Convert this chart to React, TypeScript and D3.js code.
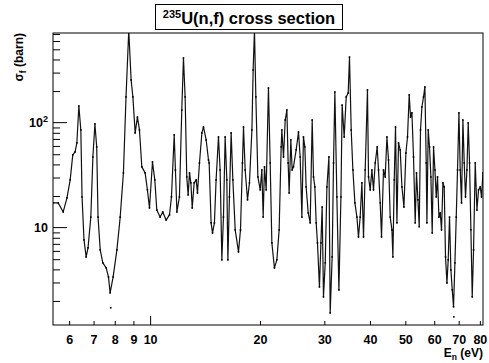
import React, { useEffect, useRef } from 'react';
import * as d3 from 'd3';

// neutron energy (eV) and fission cross section (barn)
const energy = [
  5.42, 5.60, 5.78, 5.92, 6.04, 6.14, 6.23, 6.30, 6.38, 6.46, 6.51, 6.59, 6.68, 6.76, 6.88,
  6.97, 7.06, 7.14, 7.20, 7.30, 7.42, 7.58, 7.69, 7.77, 7.92, 8.11, 8.28, 8.45, 8.59, 8.74,
  8.87, 8.97, 9.10, 9.23, 9.35, 9.49, 9.69, 9.83, 9.96, 10.15, 10.30, 10.43, 10.65, 10.83, 11.06,
  11.30, 11.44, 11.64, 11.73, 11.84, 12.03, 12.21, 12.34, 12.47, 12.60, 12.71, 12.82, 12.93, 13.04, 13.20,
  13.37, 13.48, 13.65, 13.86, 14.00, 14.24, 14.45, 14.51, 14.69, 14.82, 15.00, 15.16, 15.39, 15.55, 15.72,
  15.88, 16.05, 16.22, 16.33, 16.49, 16.67, 16.85, 17.10, 17.46, 17.68, 17.90, 18.02, 18.21, 18.48, 18.71,
  19.00, 19.15, 19.31, 19.48, 19.73, 20.02, 20.23, 20.40, 20.57, 20.79, 21.09, 21.32, 21.55, 21.90, 22.24,
  22.56, 22.85, 22.95, 23.19, 23.44, 23.69, 23.88, 24.03, 24.29, 24.49, 24.69, 25.12, 25.49, 25.76, 26.04,
  26.30, 26.53, 26.75, 27.10, 27.44, 27.79, 28.02, 28.26, 28.50, 28.73, 29.09, 29.36, 29.59, 29.84, 30.17,
  30.49, 30.88, 31.13, 31.52, 31.79, 32.06, 32.47, 32.89, 33.31, 33.57, 34.00, 34.44, 34.87, 35.16, 35.54,
  35.92, 36.38, 36.84, 37.21, 37.61, 38.02, 38.41, 38.82, 39.38, 39.64, 40.06, 40.50, 40.91, 41.35, 41.87,
  42.22, 42.67, 43.03, 43.57, 44.04, 44.52, 44.97, 45.45, 45.95, 46.23, 46.62, 47.00, 47.42, 47.90, 48.41,
  48.94, 49.56, 50.18, 50.69, 51.24, 51.67, 52.12, 52.65, 53.21, 53.65, 54.13, 54.58, 55.02, 55.51, 56.08,
  56.57, 57.04, 57.29, 57.76, 58.24, 58.75, 59.24, 59.74, 60.26, 60.76, 61.25, 61.80, 62.31, 62.82, 63.38,
  63.90, 64.42, 65.00, 65.53, 66.07, 66.65, 67.21, 67.76, 68.36, 68.93, 69.49, 70.11, 70.68, 71.27, 71.89,
  72.49, 73.08, 73.74, 74.34, 74.96, 75.61, 76.24, 76.88, 77.70, 78.54, 79.34, 80.19, 80.85, 81.56,
];
const sigma = [
  17.2, 17.2, 14.1, 19.2, 28.5, 49.3, 52.6, 64.1, 144, 85.2, 19.6, 7.64, 5.26, 6.41, 12.6,
  47.1, 97.2, 58.7, 12.6, 6.13, 4.61, 4.13, 3.39, 2.39, 3.39, 6.13, 12.6, 33.2, 176, 760,
  255, 176, 79.8, 113, 85.2, 37.9, 33.2, 22.9, 15.4, 42.2, 28.5, 14.7, 12.6, 14.1, 11.8,
  13.2, 19.6, 76.4, 35.4, 14.1, 19.6, 132, 413, 176, 30.4, 20.5, 33.2, 26.7, 15.4, 26.7,
  28.5, 21.4, 41.3, 79.8, 91.0, 68.4, 44.1, 41.3, 11.1, 8.90, 11.1, 28.5, 73.1, 35.4, 4.93,
  12.6, 73.1, 28.5, 4.93, 19.6, 79.8, 28.5, 9.51, 5.87, 9.51, 41.3, 91.0, 35.4, 18.4, 26.7,
  85.2, 318, 760, 176, 30.4, 22.9, 35.4, 12.6, 37.9, 22.9, 214, 41.3, 7.15, 4.13, 4.93,
  9.51, 58.7, 85.2, 47.1, 106, 132, 41.3, 21.4, 68.4, 35.4, 37.9, 55.0, 81.5, 47.1, 12.6,
  73.1, 58.7, 24.4, 13.8, 11.1, 106, 30.4, 24.4, 11.1, 7.15, 2.72, 7.15, 15.7, 2.19, 4.61,
  24.4, 47.1, 1.54, 5.26, 41.3, 196, 19.6, 2.55, 19.6, 147, 73.1, 176, 192, 422, 85.2,
  35.4, 17.2, 12.6, 8.15, 12.6, 26.7, 8.15, 35.4, 205, 30.4, 22.9, 35.4, 22.9, 41.3, 58.7,
  35.4, 17.2, 8.15, 35.4, 30.4, 73.1, 44.1, 12.6, 9.51, 5.26, 28.5, 91.0, 11.1, 64.1, 55.0,
  24.4, 15.7, 51.4, 73.1, 184, 113, 124, 47.1, 11.1, 33.2, 18.4, 10.2, 85.2, 141, 176,
  219, 41.3, 11.1, 85.2, 58.7, 30.4, 8.90, 58.7, 35.4, 19.6, 30.4, 12.6, 13.8, 9.51, 26.7,
  24.4, 5.26, 2.97, 4.93, 12.6, 3.95, 2.55, 1.76, 4.61, 12.6, 35.4, 124, 35.4, 17.2, 106,
  41.3, 19.6, 35.4, 99.3, 41.3, 9.51, 2.19, 6.13, 41.3, 14.7, 22.9, 24.4, 19.6, 33.2,
];
// stray measured points below the curve
const strayE = [7.80, 67.9];
const strayS = [1.72, 1.41];

const xTicks = [6, 7, 8, 9, 10, 20, 30, 40, 50, 60, 70, 80];
const yMinor = [2, 3, 4, 5, 6, 7, 8, 9, 20, 30, 40, 50, 60, 70, 80, 90, 200, 300, 400, 500, 600, 700];
const yMajor = [10, 100];
const yLabels = [{ base: '10', sup: '' }, { base: '10', sup: '2' }];

const FONT = '"Liberation Sans", Arial, Helvetica, sans-serif';

export default function App() {
  const svgRef = useRef<SVGSVGElement>(null);

  useEffect(() => {
    if (!svgRef.current) return;
    const svg = d3.select(svgRef.current);
    svg.selectAll('*').remove();

    const width = 489, height = 363;
    const margin = { top: 33, right: 6, bottom: 38, left: 53 };
    const x0 = margin.left, x1 = width - margin.right;
    const y0 = height - margin.bottom, y1 = margin.top;

    const x = d3.scaleLog().domain([5.42, 81.6]).range([x0, x1]);
    const y = d3.scaleLog().domain([1.18, 715]).range([y0, y1]);

    svg.append('rect').attr('width', width).attr('height', height).attr('fill', 'white');

    svg.append('defs').append('clipPath').attr('id', 'plotclip')
      .append('rect').attr('x', x0).attr('y', y1).attr('width', x1 - x0).attr('height', y0 - y1);

    const pts = energy.map((e, i) => [e, sigma[i]] as [number, number]);

    const line = d3.line<[number, number]>()
      .x(d => x(d[0]))
      .y(d => y(d[1]));

    const plot = svg.append('g').attr('clip-path', 'url(#plotclip)');
    plot.append('path')
      .datum(pts)
      .attr('fill', 'none')
      .attr('stroke', '#111')
      .attr('stroke-width', 1.2)
      .attr('stroke-linejoin', 'round')
      .attr('d', line);

    plot.selectAll('.dot')
      .data(pts.concat(strayE.map((e, i) => [e, strayS[i]] as [number, number])))
      .join('rect')
      .attr('class', 'dot')
      .attr('x', d => x(d[0]) - 0.8)
      .attr('y', d => y(d[1]) - 0.8)
      .attr('width', 1.6)
      .attr('height', 1.6)
      .attr('fill', 'black');

    // x axis (ticks point into the frame)
    const xAxis = d3.axisBottom(x)
      .tickValues(xTicks)
      .tickSize(-4)
      .tickPadding(10)
      .tickFormat(d => String(d));
    const gx = svg.append('g').attr('transform', `translate(0,${y0})`).call(xAxis);
    gx.select('.domain').remove();
    gx.selectAll('.tick line').attr('y2', (d: any) => (d === 10 ? -9 : -4)).attr('stroke', 'black');
    gx.selectAll('.tick text')
      .attr('font-family', FONT).attr('font-weight', 'bold').attr('font-size', 12.5).attr('fill', 'black');

    // y axis
    const yAxis = d3.axisLeft(y).tickValues(yMinor).tickSize(-7).tickFormat(() => '');
    const gy = svg.append('g').attr('transform', `translate(${x0},0)`).call(yAxis);
    gy.select('.domain').remove();
    gy.selectAll('.tick line').attr('stroke', 'black');

    yMajor.forEach((v, i) => {
      svg.append('line')
        .attr('x1', x0).attr('x2', x0 + 14)
        .attr('y1', y(v)).attr('y2', y(v))
        .attr('stroke', 'black');
      const t = svg.append('text')
        .attr('x', x0 - 5)
        .attr('y', y(v) + 4.5)
        .attr('text-anchor', 'end')
        .attr('font-family', FONT).attr('font-weight', 'bold').attr('font-size', 12.5);
      t.append('tspan').text(yLabels[i].base);
      if (yLabels[i].sup) {
        t.append('tspan').attr('font-size', 9).attr('dy', -5).text(yLabels[i].sup);
      }
    });

    // frame
    svg.append('rect')
      .attr('x', x0).attr('y', y1)
      .attr('width', x1 - x0).attr('height', y0 - y1)
      .attr('fill', 'none').attr('stroke', 'black').attr('stroke-width', 1);

    // axis titles
    const xt = svg.append('text')
      .attr('x', x1).attr('y', 357)
      .attr('text-anchor', 'end')
      .attr('font-family', FONT).attr('font-weight', 'bold').attr('font-size', 12);
    xt.append('tspan').text('E');
    xt.append('tspan').attr('font-size', 8.5).attr('dy', 3).text('n');
    xt.append('tspan').attr('dy', -3).text(' (eV)');

    const yt = svg.append('text')
      .attr('transform', `translate(23,${y1}) rotate(-90)`)
      .attr('text-anchor', 'end')
      .attr('font-family', FONT).attr('font-weight', 'bold').attr('font-size', 12);
    yt.append('tspan').text('σ');
    yt.append('tspan').attr('font-size', 8.5).attr('dy', 3).text('f');
    yt.append('tspan').attr('dy', -3).text(' (barn)');

    // title box
    svg.append('rect')
      .attr('x', 155.5).attr('y', 4.5).attr('width', 187).attr('height', 25)
      .attr('fill', 'white').attr('stroke', 'black').attr('stroke-width', 1);
    const tt = svg.append('text')
      .attr('x', 249).attr('y', 23.5)
      .attr('text-anchor', 'middle')
      .attr('font-family', FONT).attr('font-weight', 'bold').attr('font-size', 16.5);
    tt.append('tspan').attr('font-size', 11).attr('dy', -6).text('235');
    tt.append('tspan').attr('dy', 6).text('U(n,f) cross section');
  }, []);

  return (
    <svg
      ref={svgRef}
      width={489}
      height={363}
      style={{ position: 'absolute', left: 0, top: 0 }}
    />
  );
}
